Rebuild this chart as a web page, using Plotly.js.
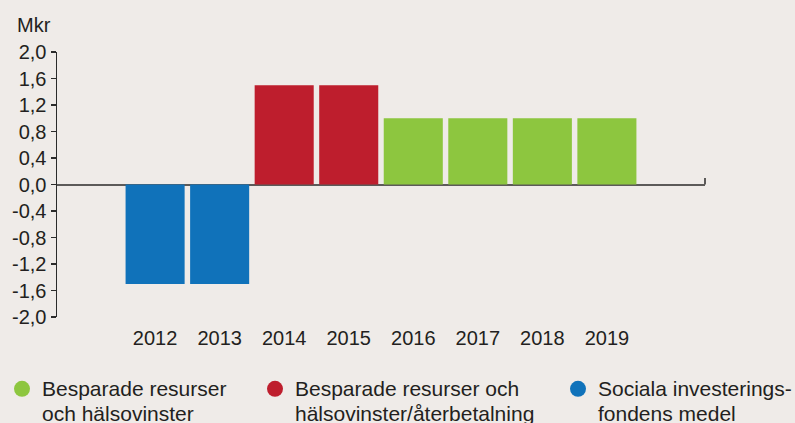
<!DOCTYPE html>
<html>
<head>
<meta charset="utf-8">
<script src="https://cdn.plot.ly/plotly-3.0.1.min.js"></script>
<style>
  html, body { margin: 0; padding: 0; background: #efebe8; }
  #chart { width: 795px; height: 423px; }
</style>
</head>
<body>
<div id="chart"></div>
<script>
// ---- data ----
const years = ['2012', '2013', '2014', '2015', '2016', '2017', '2018', '2019'];

const greenName = 'Besparade resurser<br>och hälsovinster';
const greenYears = ['2016', '2017', '2018', '2019'];
const greenValues = [1.0, 1.0, 1.0, 1.0];

const redName = 'Besparade resurser och<br>hälsovinster/återbetalning';
const redYears = ['2014', '2015'];
const redValues = [1.5, 1.5];

const blueName = 'Sociala investerings-<br>fondens medel';
const blueYears = ['2012', '2013'];
const blueValues = [-1.5, -1.5];

const yTickVals = [2.0, 1.6, 1.2, 0.8, 0.4, 0.0, -0.4, -0.8, -1.2, -1.6, -2.0];
const yTickText = ['2,0', '1,6', '1,2', '0,8', '0,4', '0,0', '-0,4', '-0,8', '-1,2', '-1,6', '-2,0'];

// ---- styles ----
const GREEN = '#8dc63f';
const RED = '#be1e2d';
const BLUE = '#1072ba';
const TEXT = '#231f20';
const FONT = 'Liberation Sans, Arial, Helvetica, sans-serif';

function barTrace(x, y, color) {
  return { type: 'bar', x: x, y: y, marker: { color: color }, showlegend: false, hoverinfo: 'skip' };
}
function legendLabel(name) {
  // larger glyphs with the tighter line spacing of the legend font
  return name.split('<br>').map(function (s) {
    return '<span style="font-size:21px">' + s + '</span>';
  }).join('<br>');
}
function legendTrace(name, color, legendId) {
  return {
    type: 'scatter', mode: 'markers', x: [null], y: [null], name: legendLabel(name),
    marker: { color: color, size: 16, symbol: 'circle' },
    showlegend: true, legend: legendId, hoverinfo: 'skip'
  };
}

const traces = [
  barTrace(blueYears, blueValues, BLUE),
  barTrace(redYears, redValues, RED),
  barTrace(greenYears, greenValues, GREEN),
  legendTrace(greenName, GREEN, 'legend'),
  legendTrace(redName, RED, 'legend2'),
  legendTrace(blueName, BLUE, 'legend3')
];

function legendAt(px) {
  return {
    xref: 'container', yref: 'container',
    x: px / 795, y: 1 - 370 / 423, xanchor: 'left', yanchor: 'top',
    orientation: 'v', valign: 'top', bgcolor: 'rgba(0,0,0,0)',
    font: { family: FONT, size: 19, color: TEXT }, itemsizing: 'trace'
  };
}

const layout = {
  width: 795, height: 423,
  paper_bgcolor: '#efebe8', plot_bgcolor: '#efebe8',
  margin: { l: 57, r: 90, t: 52, b: 106, autoexpand: false },
  font: { family: FONT, size: 20, color: TEXT },
  barmode: 'relative',
  bargap: 0.085,
  title: {
    text: 'Mkr', xref: 'container', yref: 'container',
    x: 17 / 795, xanchor: 'left', y: 1 - 25 / 423, yanchor: 'middle',
    font: { family: FONT, size: 20, color: TEXT }
  },
  xaxis: {
    type: 'category', categoryorder: 'array', categoryarray: years,
    range: [-1.52, 8.52], showline: false, showgrid: false, zeroline: false,
    ticks: '', ticklabelstandoff: 7, tickfont: { family: FONT, size: 20, color: TEXT },
    automargin: false, fixedrange: true
  },
  yaxis: {
    range: [-2, 2], tickvals: yTickVals, ticktext: yTickText,
    showline: true, linecolor: '#2b2b2b', linewidth: 1.5,
    ticks: 'outside', ticklen: 5, tickwidth: 1.5, tickcolor: '#2b2b2b',
    showgrid: false, zeroline: true, zerolinecolor: '#5c5a59', zerolinewidth: 2,
    tickfont: { family: FONT, size: 20, color: TEXT },
    automargin: false, fixedrange: true
  },
  shapes: [
    { type: 'line', xref: 'paper', yref: 'y', x0: 1, x1: 1, y0: 0, y1: 0.1,
      line: { color: '#5c5a59', width: 2 } }
  ],
  legend: legendAt(2),
  legend2: legendAt(255),
  legend3: legendAt(558),
  showlegend: true
};

Plotly.newPlot('chart', traces, layout, { displayModeBar: false, staticPlot: true });
</script>
</body>
</html>
